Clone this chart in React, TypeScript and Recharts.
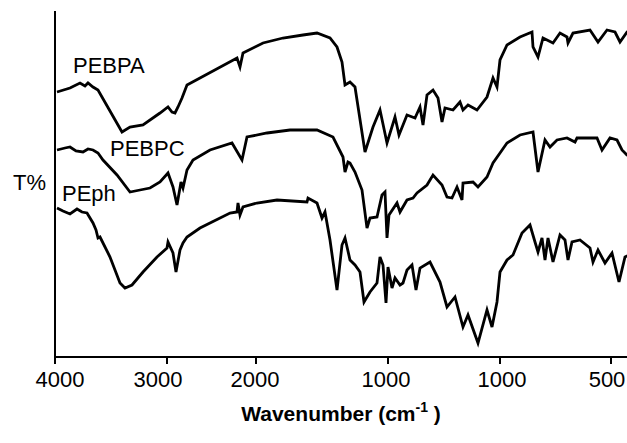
import React from "react";
import { LineChart, Line, XAxis, YAxis } from "recharts";

// x = position along the (non-linear) wavenumber axis, y = transmittance (arb. units)
const tickPos = [0, 112, 201, 333, 445, 556];
const tickLabels = ["4000", "3000", "2000", "1000", "1000", "500"];
const tickShift = [5, -9, -1, -2, 2, -4];

const pebpaPos = [2, 15, 25, 30, 33, 38, 43, 67, 75, 88, 105, 113, 117, 120, 123, 127, 132, 145, 182, 185, 188, 208, 228, 248, 262, 275, 282, 287, 290, 295, 300, 310, 318, 325, 332, 340, 344, 352, 360, 365, 368, 372, 378, 383, 387, 390, 398, 405, 408, 413, 422, 432, 438, 442, 445, 452, 465, 477, 478, 483, 488, 498, 505, 512, 513, 518, 535, 543, 552, 560, 565, 572, 585];
const pebpaT = [265, 269, 274, 271, 274, 270, 267, 225, 230, 232, 244, 250, 245, 244, 250, 259, 272, 279, 299, 290, 304, 314, 319, 322, 324, 319, 310, 295, 272, 275, 270, 205, 230, 247, 214, 240, 222, 242, 239, 250, 232, 262, 267, 259, 235, 249, 247, 255, 247, 252, 247, 260, 279, 270, 297, 312, 320, 325, 310, 300, 319, 314, 324, 320, 314, 324, 327, 315, 327, 325, 315, 325, 327];

const pebpcPos = [2, 10, 15, 21, 28, 33, 38, 43, 48, 62, 75, 85, 95, 105, 113, 118, 122, 126, 128, 132, 138, 155, 177, 187, 192, 212, 235, 262, 278, 288, 290, 293, 295, 300, 307, 312, 315, 322, 327, 330, 332, 334, 342, 345, 352, 358, 362, 372, 378, 387, 392, 397, 402, 407, 408, 418, 423, 432, 438, 445, 452, 465, 478, 483, 490, 495, 502, 512, 520, 522, 542, 547, 555, 562, 567, 572, 585];
const pebpcT = [207, 209, 210, 206, 205, 208, 207, 204, 197, 182, 165, 167, 169, 175, 184, 170, 152, 175, 169, 187, 197, 207, 214, 197, 220, 224, 227, 227, 220, 200, 185, 195, 194, 185, 167, 129, 139, 140, 162, 165, 119, 142, 154, 145, 157, 159, 164, 172, 182, 172, 160, 159, 170, 157, 174, 175, 170, 180, 194, 204, 214, 222, 225, 185, 217, 210, 217, 219, 215, 219, 219, 207, 219, 217, 207, 202, 197];

const pephPos = [2, 8, 15, 22, 27, 32, 38, 41, 43, 45, 55, 65, 70, 77, 88, 102, 112, 113, 118, 121, 125, 128, 132, 145, 175, 182, 183, 185, 188, 202, 222, 252, 253, 262, 267, 270, 275, 282, 287, 290, 295, 300, 305, 309, 315, 322, 325, 328, 331, 333, 337, 340, 345, 348, 352, 357, 361, 365, 375, 385, 392, 400, 408, 413, 423, 432, 437, 442, 445, 452, 458, 467, 475, 480, 483, 487, 490, 493, 498, 505, 510, 513, 517, 525, 535, 538, 543, 550, 557, 564, 570, 585];
const pephT = [149, 146, 143, 148, 145, 144, 134, 127, 119, 120, 100, 74, 69, 72, 85, 100, 109, 115, 104, 85, 107, 114, 120, 129, 144, 145, 154, 142, 150, 154, 157, 155, 159, 154, 139, 145, 117, 67, 112, 119, 97, 92, 85, 55, 65, 74, 100, 92, 54, 90, 69, 79, 72, 74, 87, 92, 67, 89, 95, 75, 50, 60, 30, 42, 14, 47, 30, 55, 85, 97, 102, 124, 132, 115, 105, 119, 97, 119, 95, 122, 117, 97, 115, 117, 109, 95, 107, 94, 104, 75, 100, 107];

const zip = (pos: number[], t: number[]) => pos.map((p, i) => ({ pos: p, t: t[i] }));
const pebpa = zip(pebpaPos, pebpaT);
const pebpc = zip(pebpcPos, pebpcT);
const peph = zip(pephPos, pephT);

const font = "'Liberation Sans', Arial, Helvetica, sans-serif";

const WaveTick = (props: any) => {
  const { x, y, payload } = props;
  const i = tickPos.indexOf(payload.value);
  return (
    <text x={x + (tickShift[i] ?? 0)} y={y} dy="0.71em" textAnchor="middle" fontSize={22} fontFamily={font} fill="#000">
      {tickLabels[i] ?? ""}
    </text>
  );
};

export default function App() {
  return (
    <div style={{ position: "absolute", left: 0, top: 0, width: 627, height: 443, overflow: "hidden", background: "#fff" }}>
      <LineChart width={640} height={443} margin={{ top: 11, right: 0, bottom: 0, left: 0 }} style={{ fontFamily: font }}>
        <XAxis
          dataKey="pos"
          type="number"
          domain={[0, 585]}
          ticks={tickPos}
          height={86}
          tickSize={7}
          tickMargin={7}
          axisLine={{ stroke: "#000", strokeWidth: 2 }}
          tickLine={{ stroke: "#000", strokeWidth: 2 }}
          tick={<WaveTick />}
          allowDataOverflow
        />
        <XAxis
          xAxisId="top"
          orientation="top"
          type="number"
          domain={[0, 585]}
          height={0}
          tick={false}
          tickLine={false}
          axisLine={{ stroke: "#000", strokeWidth: 2 }}
        />
        <YAxis
          type="number"
          domain={[0, 346]}
          width={55}
          tick={false}
          tickLine={false}
          axisLine={{ stroke: "#000", strokeWidth: 2 }}
          allowDataOverflow
        />
        <Line data={pebpa} dataKey="t" type="linear" stroke="#000" strokeWidth={2.8} dot={false} isAnimationActive={false} />
        <Line data={pebpc} dataKey="t" type="linear" stroke="#000" strokeWidth={2.8} dot={false} isAnimationActive={false} />
        <Line data={peph} dataKey="t" type="linear" stroke="#000" strokeWidth={2.8} dot={false} isAnimationActive={false} />
        <text x={73} y={73} fontSize={22} fontFamily={font} fill="#000">PEBPA</text>
        <text x={110} y={156} fontSize={22} fontFamily={font} fill="#000">PEBPC</text>
        <text x={62} y={201} fontSize={22} fontFamily={font} fill="#000">PEph</text>
        <text x={13} y={190} fontSize={22} fontFamily={font} fill="#000">T%</text>
        <text x={341} y={421} fontSize={21} fontWeight="bold" fontFamily={font} fill="#000" textAnchor="middle">
          Wavenumber (cm<tspan dy={-9} fontSize={14}>-1</tspan><tspan dy={9}> )</tspan>
        </text>
      </LineChart>
    </div>
  );
}
